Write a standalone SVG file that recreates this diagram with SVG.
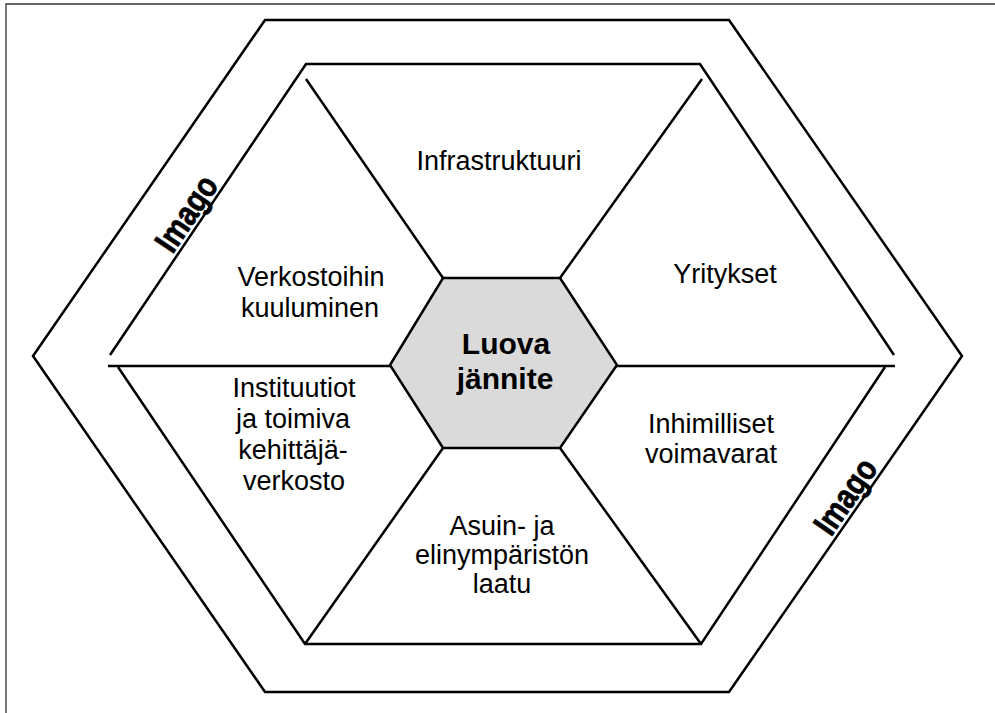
<svg xmlns="http://www.w3.org/2000/svg" width="995" height="713" viewBox="0 0 995 713">
  <style>
    .frame { fill: none; stroke: #333; stroke-width: 1.3; }
    .edge { fill: none; stroke: #000; stroke-width: 2.5; stroke-linejoin: miter; }
    .core { fill: #dadada; stroke: #000; stroke-width: 2.5; }
    .lbl { font-family: "Liberation Sans", Arial, sans-serif; font-size: 27px; fill: #000; text-anchor: middle; }
    .core-lbl { font-family: "Liberation Sans", Arial, sans-serif; font-size: 30px; font-weight: bold; fill: #000; text-anchor: middle; }
    .imago { font-family: "Liberation Sans", Arial, sans-serif; font-size: 34px; font-weight: bold; fill: #000; stroke: #000; stroke-width: 0.8; text-anchor: middle; }
  </style>

  <rect width="995" height="713" fill="#fff"/>

  <!-- page frame: left and top rules -->
  <path class="frame" d="M6,713 V4 H995"/>

  <!-- outer "Imago" ring -->
  <g id="outer-ring">
    <polygon class="edge" points="265,20 729,20 962,356 729,692 265,692 33,356"/>
  </g>

  <!-- inner hexagon, drawn as an upper and a lower half -->
  <g id="inner-hexagon">
    <polyline class="edge" points="110,355 306,64 700,64 894,355"/>
    <polyline class="edge" points="118,367 305,644 701,644 885,367"/>
  </g>

  <!-- dividing spokes between the sectors -->
  <g id="connectors">
    <line class="edge" x1="108" y1="366" x2="895" y2="366"/>
    <line class="edge" x1="306" y1="79" x2="443" y2="278"/>
    <line class="edge" x1="702" y1="79" x2="560" y2="278"/>
    <line class="edge" x1="443" y1="448" x2="305" y2="644"/>
    <line class="edge" x1="560" y1="448" x2="701" y2="644"/>
  </g>

  <!-- centre -->
  <g id="luova-jannite">
    <polygon class="core" points="443,278 560,278 617,365 560,448 443,448 390,365"/>
    <text class="core-lbl" x="506" y="354">Luova</text>
    <text class="core-lbl" x="505" y="389">jännite</text>
  </g>

  <!-- sectors -->
  <g id="infrastruktuuri">
    <text class="lbl" x="499" y="170">Infrastruktuuri</text>
  </g>

  <g id="yritykset">
    <text class="lbl" x="725" y="283">Yritykset</text>
  </g>

  <g id="inhimilliset-voimavarat">
    <text class="lbl" x="711" y="433">Inhimilliset</text>
    <text class="lbl" x="711" y="463">voimavarat</text>
  </g>

  <g id="asuin-ja-elinymparisto">
    <text class="lbl" x="502" y="535">Asuin- ja</text>
    <text class="lbl" x="502" y="564">elinympäristön</text>
    <text class="lbl" x="502" y="593">laatu</text>
  </g>

  <g id="instituutiot">
    <text class="lbl" x="294" y="397">Instituutiot</text>
    <text class="lbl" x="293" y="428">ja toimiva</text>
    <text class="lbl" x="293" y="459">kehittäjä-</text>
    <text class="lbl" x="294" y="490">verkosto</text>
  </g>

  <g id="verkostoihin-kuuluminen">
    <text class="lbl" x="311" y="286">Verkostoihin</text>
    <text class="lbl" x="310" y="317">kuuluminen</text>
  </g>

  <!-- ring labels, set along the slanted edges -->
  <g id="imago-left">
    <text class="imago" transform="translate(196,220) rotate(-56)" textLength="84" lengthAdjust="spacingAndGlyphs">Imago</text>
  </g>
  <g id="imago-right">
    <text class="imago" transform="translate(855,503) rotate(-55.3)" textLength="84" lengthAdjust="spacingAndGlyphs">Imago</text>
  </g>
</svg>
